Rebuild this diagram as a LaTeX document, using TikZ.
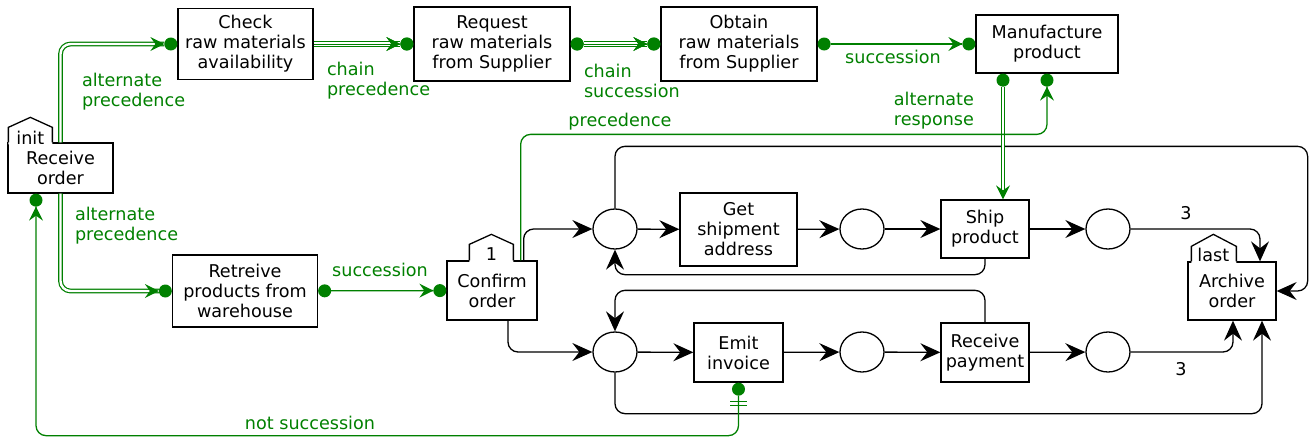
\documentclass[tikz,border=0pt]{standalone}
\usepackage{fontspec}
\setmainfont{DejaVu Sans}
\usetikzlibrary{arrows.meta, shapes.geometric}
\definecolor{declgreen}{RGB}{0,128,0}

\begin{document}
\begin{tikzpicture}[x = 0.5pt, y = -0.5pt, font = \fontsize{8.8}{10}\selectfont,
	decldot/.tip = {Circle[length = 6.5pt, line width = 0pt]},
	declhead/.tip = {Stealth[length = 7pt, width = 7pt, inset = 2.5pt, line width = 0pt]},
	activity/.style = {draw, line width = 0.65pt, align = center, inner sep = 0pt, fill = white},
	place/.style = {draw, ellipse, line width = 0.65pt, minimum width = 22pt, minimum height = 20pt, inner sep = 0pt},
	flow/.style = {line width = 0.65pt, rounded corners = 5pt, -{Stealth[length = 10pt, width = 9pt, inset = 3.5pt]}},
	decl/.style = {declgreen, line width = 0.65pt, rounded corners = 5pt},
	twofold/.style = {decl, double = white, line width = 0.6pt, double distance = 1.2pt},
	threefold/.style = {decl, double = white, line width = 0.5pt, double distance = 2pt},
	tag/.style = {line width = 0.65pt},
	decltext/.style = {declgreen, align = left}]

	\useasboundingbox (0, 0) rectangle (1314, 440);

	% Activities

	\node [activity, minimum width = 52.5pt, minimum height = 25pt] (recv) at (60.5, 168) {Receive\\order};
	\node [activity, minimum width = 67.5pt, minimum height = 35.5pt] (check) at (245.5, 44) {Check\\raw materials\\availability};
	\node [activity, minimum width = 78pt, minimum height = 37pt] (request) at (492, 44) {Request\\raw materials\\from Supplier};
	\node [activity, minimum width = 78pt, minimum height = 37pt] (obtain) at (739, 44) {Obtain\\raw materials\\from Supplier};
	\node [activity, minimum width = 71pt, minimum height = 29pt] (manuf) at (1047, 44) {Manufacture\\product};
	\node [activity, minimum width = 72.5pt, minimum height = 36pt] (retr) at (245, 291) {Retreive\\products from\\warehouse};
	\node [activity, minimum width = 45pt, minimum height = 29.5pt] (confirm) at (492, 290.5) {Confirm\\order};
	\node [activity, minimum width = 58.5pt, minimum height = 36.5pt] (getship) at (738.5, 229.5) {Get\\shipment\\address};
	\node [activity, minimum width = 44.5pt, minimum height = 29.5pt] (emit) at (738.5, 352.5) {Emit\\invoice};
	\node [activity, minimum width = 44pt, minimum height = 29pt] (ship) at (985, 229) {Ship\\product};
	\node [activity, minimum width = 44pt, minimum height = 29.5pt] (pay) at (985, 352.5) {Receive\\payment};
	\node [activity, minimum width = 44pt, minimum height = 29pt] (archive) at (1232, 291) {Archive\\order};

	% Tags

	\fill [white] ([shift = {(1, 2)}]recv.north west) -- ++(0, -17) -- ++(22, -10) -- ++(22, 10) -- ++(0, 17) -- cycle;
	\draw [tag] ([xshift = 0.5pt]recv.north west) -- ++(0, -15) -- ++(22, -10) -- ++(22, 10) -- ++(0, 15);
	\node [anchor = base] (init) at ([shift = {(23, 2)}]recv.north west) {init};

	\fill [white] ([shift = {(23, 2)}]confirm.north west) -- ++(0, -18) -- ++(22, -10) -- ++(22, 10) -- ++(0, 18) -- cycle;
	\draw [tag] ([xshift = 11.5pt]confirm.north west) -- ++(0, -16) -- ++(22, -10) -- ++(22, 10) -- ++(0, 16);
	\node [anchor = base] (once) at ([shift = {(45, 0)}]confirm.north west) {1};

	\fill [white] ([shift = {(4, 2)}]archive.north west) -- ++(0, -17) -- ++(22, -12) -- ++(23, 12) -- ++(0, 17) -- cycle;
	\draw [tag] ([xshift = 2pt]archive.north west) -- ++(0, -15) -- ++(22, -12) -- ++(23, 12) -- ++(0, 15);
	\node [anchor = base] (last) at ([shift = {(26, 0)}]archive.north west) {last};

	% Places

	\node [place] (p1) at (615, 229) {};
	\node [place] (p2) at (862, 229) {};
	\node [place] (p3) at (1108, 229) {};
	\node [place] (p4) at (615, 352) {};
	\node [place] (p5) at (862, 352) {};
	\node [place] (p6) at (1108, 352) {};

	% Process flow

	\draw [flow] ([xshift = -7pt]confirm.north east) |- (p1);
	\draw [flow] ([xshift = 8pt]confirm.south) |- (p4);

	\draw [flow] (p1) -- (getship);
	\draw [flow] (getship) -- (p2);
	\draw [flow] (p2) -- (ship);
	\draw [flow] (ship) -- (p3);
	\draw [flow] (p4) -- (emit);
	\draw [flow] (emit) -- (p5);
	\draw [flow] (p5) -- (pay);
	\draw [flow] (pay) -- (p6);

	\draw [flow] (ship.south) -- ++(0, 16) -| (p1.south);
	\draw [flow] (pay.north) -- ++(0, -32) -| (p4.north);
	\draw [flow] (p1.north) -- ++(0, -62) -| ([xshift = 15.5pt]archive.east) -- (archive.east);
	\draw [flow] (p4.south) -- ++(0, 41) -| ([xshift = 15pt]archive.south);
	\draw [flow] (p3) -| ([xshift = 14pt]archive.north);
	\draw [flow] (p6) -| ([xshift = 0.5pt]archive.south);

	\node (w1) at (1186, 213) {3};
	\node (w2) at (1181, 369) {3};

	% Constraints

	\draw [twofold, -{declhead[] decldot[]}] (recv.north) |- (check.west);
	\draw [twofold, -{declhead[] decldot[]}] (recv.south) |- (retr.west);
	\draw [threefold, -{declhead[] decldot[]}] (check) -- (request);
	\draw [decl, line width = 0.5pt, -{declhead[] decldot[]}] (check) -- (request);
	\draw [threefold, {decldot[]}-{declhead[] decldot[]}] (request) -- (obtain);
	\draw [decl, line width = 0.5pt, {decldot[]}-{declhead[] decldot[]}] (request) -- (obtain);
	\draw [decl, {decldot[]}-{declhead[] decldot[]}] (obtain) -- (manuf);
	\draw [twofold, {decldot[]}-{declhead[]}] ([xshift = -22pt]manuf.south) -- ([xshift = 9pt]ship.north);
	\draw [decl, -{declhead[] decldot[]}] ([xshift = -8.5pt]confirm.north east) -- ++(0, -126) -| (manuf.south);
	\draw [decl, {decldot[]}-{declhead[] decldot[]}] (retr) -- (confirm);
	\draw [decl, {Circle[length = 6.5pt, line width = 0pt] Bar[width = 8.5pt, sep = 2.5pt] Bar[width = 8.5pt, sep = 1.5pt]}-{declhead[] decldot[]}] (emit.south) -- ++(0, 53) -| ([xshift = -12.25pt]recv.south);

	\node [decltext, anchor = west] (ap1) at (75, 92) {alternate\\precedence};
	\node [decltext, anchor = west] (ap2) at (68, 226) {alternate\\precedence};
	\node [decltext, anchor = west] (cp) at (320, 81) {chain\\precedence};
	\node [decltext, anchor = west] (cs) at (577, 81) {chain\\succession};
	\node [decltext] (s1) at (893, 57) {succession};
	\node [decltext, anchor = east, align = right] (ar) at (981, 110.5) {alternate\\response};
	\node [decltext] (pr) at (620, 122) {precedence};
	\node [decltext] (s2) at (380, 270) {succession};
	\node [decltext] (ns) at (310, 423) {not succession};

\end{tikzpicture}
\end{document}
